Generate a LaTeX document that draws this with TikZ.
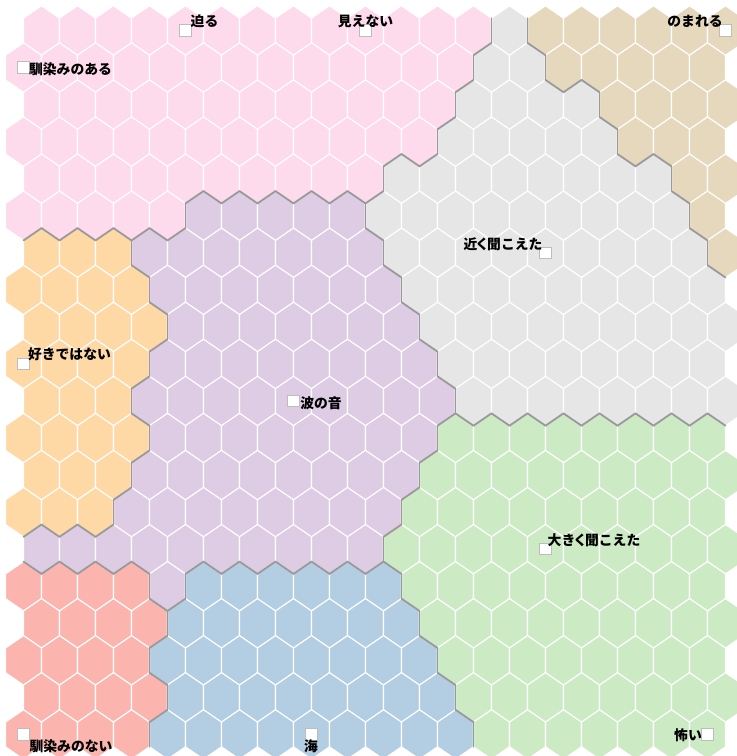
\documentclass[tikz,border=0pt]{standalone}
\usepackage{fontspec}
\newfontfamily\jp{Noto Sans CJK JP}
\definecolor{c1}{HTML}{FDDAEC}
\definecolor{c2}{HTML}{E6E6E6}
\definecolor{c3}{HTML}{E5D8BD}
\definecolor{c4}{HTML}{FED9A6}
\definecolor{c5}{HTML}{DECBE4}
\definecolor{c6}{HTML}{CCEBC5}
\definecolor{c7}{HTML}{B3CDE3}
\definecolor{c8}{HTML}{FBB4AE}
\definecolor{bnd}{HTML}{999999}
\definecolor{boxedge}{HTML}{BDBDBD}
% cluster of each cell, rows from top, 20 cells per row
\expandafter\def\csname R0\endcsname{1,1,1,1,1,1,1,1,1,1,1,1,1,2,3,3,3,3,3,3}
\expandafter\def\csname R1\endcsname{1,1,1,1,1,1,1,1,1,1,1,1,1,2,2,3,3,3,3,3}
\expandafter\def\csname R2\endcsname{1,1,1,1,1,1,1,1,1,1,1,1,2,2,2,2,3,3,3,3}
\expandafter\def\csname R3\endcsname{1,1,1,1,1,1,1,1,1,1,1,1,2,2,2,2,2,3,3,3}
\expandafter\def\csname R4\endcsname{1,1,1,1,1,1,1,1,1,1,2,2,2,2,2,2,2,2,3,3}
\expandafter\def\csname R5\endcsname{1,1,1,1,1,5,5,5,5,5,2,2,2,2,2,2,2,2,2,3}
\expandafter\def\csname R6\endcsname{4,4,4,5,5,5,5,5,5,5,2,2,2,2,2,2,2,2,2,3}
\expandafter\def\csname R7\endcsname{4,4,4,4,5,5,5,5,5,5,5,2,2,2,2,2,2,2,2,2}
\expandafter\def\csname R8\endcsname{4,4,4,4,5,5,5,5,5,5,5,2,2,2,2,2,2,2,2,2}
\expandafter\def\csname R9\endcsname{4,4,4,4,5,5,5,5,5,5,5,5,2,2,2,2,2,2,2,2}
\expandafter\def\csname R10\endcsname{4,4,4,5,5,5,5,5,5,5,5,5,2,2,2,2,2,2,2,2}
\expandafter\def\csname R11\endcsname{4,4,4,4,5,5,5,5,5,5,5,5,6,6,6,6,6,6,6,6}
\expandafter\def\csname R12\endcsname{4,4,4,5,5,5,5,5,5,5,5,6,6,6,6,6,6,6,6,6}
\expandafter\def\csname R13\endcsname{4,4,4,5,5,5,5,5,5,5,5,6,6,6,6,6,6,6,6,6}
\expandafter\def\csname R14\endcsname{5,5,5,5,5,5,5,5,5,5,6,6,6,6,6,6,6,6,6,6}
\expandafter\def\csname R15\endcsname{8,8,8,8,5,7,7,7,7,7,7,6,6,6,6,6,6,6,6,6}
\expandafter\def\csname R16\endcsname{8,8,8,8,7,7,7,7,7,7,7,6,6,6,6,6,6,6,6,6}
\expandafter\def\csname R17\endcsname{8,8,8,8,7,7,7,7,7,7,7,7,6,6,6,6,6,6,6,6}
\expandafter\def\csname R18\endcsname{8,8,8,8,7,7,7,7,7,7,7,7,6,6,6,6,6,6,6,6}
\expandafter\def\csname R19\endcsname{8,8,8,8,7,7,7,7,7,7,7,7,7,6,6,6,6,6,6,6}
\begin{document}
\begin{tikzpicture}[x=1pt,y=-1pt,
  hexcell/.style={draw=white,line width=1.1pt},
  bound/.style={draw=bnd,line width=1.8pt,line cap=round},
  lbox/.style={draw=boxedge,fill=white,line width=1pt,minimum size=11.5pt,inner sep=0pt,outer sep=0pt},
  lbl/.style={font=\jp\bfseries\fontsize{13.8}{15}\selectfont,text=black,inner sep=0pt,anchor=base}]
\fill[white] (0,0) rectangle (737,756);
\useasboundingbox (0,0) rectangle (737,756);
\clip (0,0) rectangle (737,756);
% store clusters
\foreach \i in {0,...,19}{%
  \edef\thisrow{\csname R\i\endcsname}%
  \foreach \v [count=\jj from 0] in \thisrow {%
    \expandafter\xdef\csname C-\i-\jj\endcsname{\v}%
  }%
}
% cells
\foreach \i in {0,...,19}{%
  \foreach \j in {0,...,19}{%
    \pgfmathsetmacro\cx{23.5+36*\j+18*(1-mod(\i,2))}%
    \pgfmathsetmacro\cy{30.5+37.05*\i}%
    \edef\col{c\csname C-\i-\j\endcsname}%
    \fill[fill=\col,hexcell] (\cx,\cy-24.7) -- ++(18,12.35) -- ++(0,24.7) -- ++(-18,12.35) -- ++(-18,-12.35) -- ++(0,-24.7) -- cycle;
  }%
}
% cluster boundaries
\foreach \i in {0,...,19}{%
  \foreach \j in {0,...,19}{%
    \pgfmathsetmacro\cx{23.5+36*\j+18*(1-mod(\i,2))}%
    \pgfmathsetmacro\cy{30.5+37.05*\i}%
    \edef\me{\csname C-\i-\j\endcsname}%
    \ifnum\j<19
      \pgfmathtruncatemacro\jr{\j+1}%
      \ifnum\me=\csname C-\i-\jr\endcsname\relax\else
        \draw[bound] (\cx+18,\cy-12.35) -- (\cx+18,\cy+12.35);
      \fi
    \fi
    \ifnum\i<19
      \pgfmathtruncatemacro\ii{\i+1}%
      \pgfmathtruncatemacro\bl{\j-mod(\i,2)}%
      \pgfmathtruncatemacro\br{\bl+1}%
      \ifnum\bl>-1
        \ifnum\me=\csname C-\ii-\bl\endcsname\relax\else
          \draw[bound] (\cx,\cy+24.7) -- (\cx-18,\cy+12.35);
        \fi
      \fi
      \ifnum\br<20
        \ifnum\me=\csname C-\ii-\br\endcsname\relax\else
          \draw[bound] (\cx+18,\cy+12.35) -- (\cx,\cy+24.7);
        \fi
      \fi
    \fi
  }%
}
% label markers
\node[lbox] (b1) at (185.5,30.5) {};
\node[lbox] (b2) at (365.5,30.5) {};
\node[lbox] (b3) at (725.5,30.5) {};
\node[lbox] (b4) at (23.5,67.55) {};
\node[lbox] (b5) at (545.5,252.8) {};
\node[lbox] (b6) at (23.5,363.95) {};
\node[lbox] (b7) at (293.5,401) {};
\node[lbox] (b8) at (545.5,549.2) {};
\node[lbox] (b9) at (707.5,734.45) {};
\node[lbox] (b10) at (23.5,734.45) {};
\node[lbox] (b11) at (311.5,734.45) {};
% labels
\node[lbl] (t1) at (204.5,26) {迫る};
\node[lbl] (t2) at (365.5,26) {見えない};
\node[lbl] (t3) at (695,26) {のまれる};
\node[lbl] (t4) at (70.5,74) {馴染みのある};
\node[lbl] (t5) at (503,249) {近\kern-2pt く\kern-2pt 聞こえた};
\node[lbl] (t6) at (69.5,359) {好きではない};
\node[lbl] (t7) at (321,408) {波の音};
\node[lbl] (t8) at (594,545) {大き\kern-2pt く\kern-2pt 聞こえた};
\node[lbl] (t9) at (688,740) {怖い};
\node[lbl] (t10) at (71,751) {馴染みのない};
\node[lbl] (t11) at (311,751) {海};
\end{tikzpicture}
\end{document}
